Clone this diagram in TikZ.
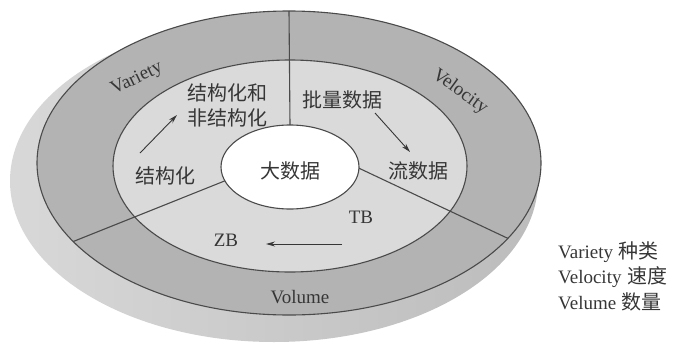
\documentclass[tikz,border=0pt]{standalone}
\usepackage{fontspec}
\setmainfont{Liberation Serif}
\newfontfamily\cjk{Noto Sans CJK SC}
\usetikzlibrary{shapes.geometric,arrows.meta}
\definecolor{ringdark}{HTML}{B3B3B3}
\definecolor{ringlight}{HTML}{DADADA}
\definecolor{sideL}{HTML}{D8D8D8}
\definecolor{sideR}{HTML}{BCBCBC}
\definecolor{edge}{HTML}{4A4A4A}
\definecolor{ink}{HTML}{363636}
\begin{document}
\begin{tikzpicture}[x=1pt,y=-1pt,
 ell/.style={ellipse, inner sep=0pt, outer sep=0pt},
 ringline/.style={draw=edge, line width=1.1pt},
 lbl/.style={text=ink, inner sep=0pt, font=\fontsize{19}{22}\selectfont},
 cjklbl/.style={text=ink, inner sep=0pt, font=\cjk\fontsize{20}{25}\selectfont, align=center},
 flow/.style={draw=ink, line width=0.9pt, -{Stealth[length=9pt,width=5pt]}},
 legend/.style={text=ink, anchor=west, inner sep=0pt, font=\fontsize{19}{22}\selectfont}]
\useasboundingbox (0,0) rectangle (675,343);
% reference ellipses
\node[ell, minimum width=528pt, minimum height=322pt] (base) at (274,181) {};
\node[ell, minimum width=504pt, minimum height=304pt] (outer) at (289,163) {};
\node[ell, minimum width=354pt, minimum height=212pt] (middle) at (290,166) {};
\node[ell, minimum width=138pt, minimum height=84pt] (core) at (290,167) {};
% side of the disc
\shade[left color=sideL, right color=sideR]
  (base.center) ellipse[x radius=264pt, y radius=161pt];
% rings
\fill[ringdark] (outer.center) ellipse[x radius=252pt, y radius=152pt];
\fill[ringlight] (middle.center) ellipse[x radius=177pt, y radius=106pt];
\draw[ringline] (outer.north) -- (core.north);
\draw[ringline] (outer.200.2) -- (core.192.6);
\draw[ringline] (outer.341.6) -- (core.359);
\draw[ringline] (outer.center) ellipse[x radius=252pt, y radius=152pt];
\draw[ringline] (middle.center) ellipse[x radius=177pt, y radius=106pt];
\draw[ringline, fill=white] (core.center) ellipse[x radius=69pt, y radius=42pt];
% ring labels
\node[lbl, rotate=26] (variety) at (137,79) {Variety};
\node[lbl, rotate=-36] (velocity) at (460,92) {Velocity};
\node[lbl] (volume) at (300,297) {Volume};
% inner labels
\node[cjklbl] (mixed) at (227,105) {结构化和\\非结构化};
\node[cjklbl] (struct) at (165,176) {结构化};
\node[cjklbl] (batch) at (342,100) {批量数据};
\node[cjklbl] (stream) at (418,171) {流数据};
\node[cjklbl] (bigdata) at (290,171) {大数据};
\node[lbl] (tb) at (361,217) {TB};
\node[lbl] (zb) at (226,240) {ZB};
% arrows
\coordinate (a1s) at (140,153); \coordinate (a1e) at (177,115);
\coordinate (a2s) at (375,113); \coordinate (a2e) at (410,152);
\coordinate (a3s) at (342,244); \coordinate (a3e) at (266,244);
\draw[flow] (a1s) -- (a1e);
\draw[flow] (a2s) -- (a2e);
\draw[flow] (a3s) -- (a3e);
% legend
\node[legend] (lg1) at (558,252) {Variety\hspace{0.3em}{\cjk\fontsize{20}{22}\selectfont 种类}};
\node[legend] (lg2) at (558,277) {Velocity\hspace{0.3em}{\cjk\fontsize{20}{22}\selectfont 速度}};
\node[legend] (lg3) at (558,302) {Velume\hspace{0.3em}{\cjk\fontsize{20}{22}\selectfont 数量}};
\end{tikzpicture}
\end{document}
